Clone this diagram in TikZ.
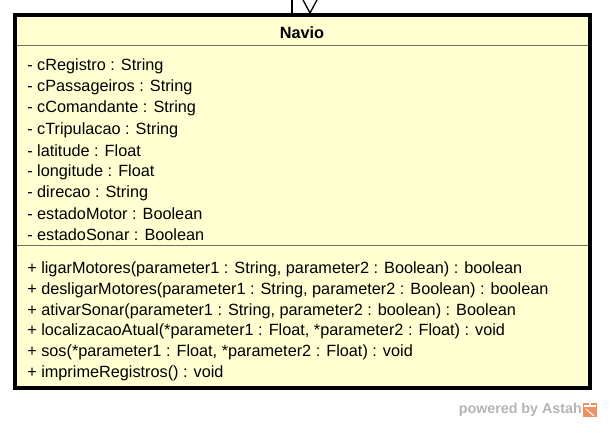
\documentclass[tikz,border=0pt]{standalone}
\usepackage{fontspec}
\setmainfont{Liberation Sans}
\definecolor{boxfill}{HTML}{FFFFD2}
\definecolor{sepline}{HTML}{6E6E5A}
\definecolor{astahgray}{HTML}{B4B4B4}
\definecolor{astahorange}{HTML}{F09060}
\begin{document}
\begin{tikzpicture}[x=0.75pt,y=-0.75pt,
  member/.style={anchor=west,inner sep=0pt,font=\fontsize{12.2pt}{14pt}\selectfont},
  title/.style={inner sep=0pt,font=\fontsize{12.2pt}{14pt}\selectfont\bfseries}]
\useasboundingbox (0,0) rectangle (610,436);
% connectors at top
\coordinate (lineTop) at (292,0);
\coordinate (lineBot) at (292,13);
\coordinate (arrL) at (302,-2);
\coordinate (arrTip) at (310,13);
\coordinate (arrR) at (318,-2);
\draw[line width=1pt] (lineTop) -- (lineBot);
\draw[line width=1pt] (arrL) -- (arrTip) -- (arrR);
% class box
\fill[boxfill] (14.5,14.5) rectangle (589.5,387.5);
\draw[sepline,line width=1pt] (16,45.5) -- (588,45.5);
\draw[sepline,line width=1pt] (16,245.5) -- (588,245.5);
\draw[line width=3pt] (14.5,14.5) rectangle (589.5,387.5);
\node[title] (name) at (302,33) {Navio};
\node[member] (a1) at (27,66) {- cRegistro : String};
\node[member] (a2) at (27,87) {- cPassageiros : String};
\node[member] (a3) at (27,108) {- cComandante : String};
\node[member] (a4) at (27,130) {- cTripulacao : String};
\node[member] (a5) at (27,151) {- latitude : Float};
\node[member] (a6) at (27,172) {- longitude : Float};
\node[member] (a7) at (27,193) {- direcao : String};
\node[member] (a8) at (27,214) {- estadoMotor : Boolean};
\node[member] (a9) at (27,235) {- estadoSonar : Boolean};
\node[member] (o1) at (27,269) {+ ligarMotores(parameter1 : String, parameter2 : Boolean) : boolean};
\node[member] (o2) at (27,290) {+ desligarMotores(parameter1 : String, parameter2 : Boolean) : boolean};
\node[member] (o3) at (27,311) {+ ativarSonar(parameter1 : String, parameter2 : boolean) : Boolean};
\node[member] (o4) at (27,331) {+ localizacaoAtual(*parameter1 : Float, *parameter2 : Float) : void};
\node[member] (o5) at (27,352) {+ sos(*parameter1 : Float, *parameter2 : Float) : void};
\node[member] (o6) at (27,373) {+ imprimeRegistros() : void};
% watermark
\node[anchor=east,inner sep=0pt,text=astahgray,font=\fontsize{10.7pt}{12pt}\selectfont\bfseries] (pw) at (582,410) {powered by Astah};
\fill[astahorange] (583,403) rectangle (597,417);
\draw[white,line width=0.8pt] (584,406) -- (596,406);
\draw[white,line width=0.8pt] (590,403) -- (590,406);
\draw[white,line width=0.8pt] (586,409) -- (594,416);
\end{tikzpicture}
\end{document}
